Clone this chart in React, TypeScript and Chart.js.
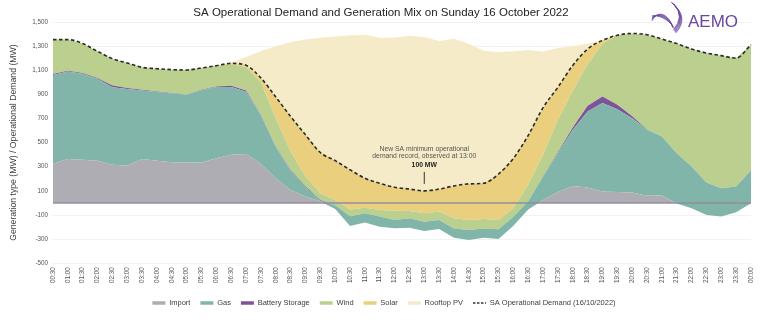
import React, { useEffect, useRef } from 'react';
import { Chart, registerables } from 'chart.js';

Chart.register(...registerables);

const TITLE = 'SA Operational Demand and Generation Mix on Sunday 16 October 2022';
const Y_TITLE = 'Generation type (MW) / Operational Demand (MW)';

const times = ['00:30','01:00','01:30','02:00','02:30','03:00','03:30','04:00','04:30','05:00','05:30','06:00','06:30','07:00','07:30','08:00','08:30','09:00','09:30','10:00','10:30','11:00','11:30','12:00','12:30','13:00','13:30','14:00','14:30','15:00','15:30','16:00','16:30','17:00','17:30','18:00','18:30','19:00','19:30','20:00','20:30','21:00','21:30','22:00','22:30','23:00','23:30','00:00'];

const importMW = [324,365,357,349,316,310,365,349,338,338,335,371,399,406,324,205,108,53,11,-50,-191,-163,-197,-210,-205,-233,-216,-288,-307,-288,-299,-190,-55,25,90,141,127,94,90,86,60,62,-5,-44,-100,-113,-78,-3];
const gasMW = [737,725,714,681,644,634,568,571,570,560,600,591,563,515,404,260,158,75,8,28,81,77,84,69,78,78,75,77,83,77,80,76,70,194,322,465,632,734,686,617,546,489,417,346,269,235,214,273];
const batteryMW = [8,6,6,6,14,8,5,4,3,2,3,4,10,12,3,3,8,8,6,2,0,0,0,0,0,0,0,0,0,0,0,0,0,3,8,19,47,55,39,15,2,0,0,0,0,0,0,0];
const windMW = [285,258,244,221,222,208,186,189,194,202,181,172,178,194,269,235,152,83,55,45,55,47,55,77,61,69,69,84,83,78,78,70,135,178,270,305,344,437,575,687,787,808,909,974,1074,1099,1065,1042];
const solarMW = [0,0,0,0,0,0,0,0,0,0,0,0,7,14,36,175,291,346,338,326,330,244,221,194,181,186,187,268,299,296,381,414,410,390,270,210,126,28,0,0,0,0,0,0,0,0,0,0];
const rooftopMW = [0,0,0,0,0,0,0,0,0,0,0,0,8,69,224,422,618,790,952,1029,1115,1190,1207,1242,1270,1275,1227,1221,1162,1099,1012,888,708,465,325,160,46,0,0,0,0,0,0,0,0,0,0,0];
const demandMW = [1354,1354,1321,1257,1196,1160,1124,1113,1105,1102,1119,1138,1157,1141,1036,878,717,565,418,351,275,205,163,130,115,100,115,141,158,163,240,370,560,790,960,1140,1276,1348,1390,1405,1395,1359,1321,1276,1243,1221,1201,1312];

const seriesNames = ['Import','Gas','Battery Storage','Wind','Solar','Rooftop PV','SA Operational Demand (16/10/2022)'];
const seriesColors = ['#aeadb3','#82b5a9','#7d5499','#bbd08f','#e9cf7e','#f6ebc9','#2a2a2a'];

const yMin = -500;
const yMax = 1500;
const yStep = 200;

const recordTime = '13:00';
const recordLines = ['New SA minimum operational', 'demand record, observed at 13:00'];
const recordValueLabel = '100 MW';

const FONT = '"Liberation Sans", Arial, Helvetica, sans-serif';

const overlayPlugin = {
  id: 'overlay',
  afterDatasetsDraw(chart: any) {
    const { ctx, chartArea, scales } = chart;
    const x = scales.x;
    const y = scales.y;
    ctx.save();
    // zero axis line
    const y0 = y.getPixelForValue(0);
    ctx.strokeStyle = 'rgba(145,137,160,0.95)';
    ctx.lineWidth = 1.6;
    ctx.beginPath();
    ctx.moveTo(chartArea.left, y0);
    ctx.lineTo(chartArea.right, y0);
    ctx.stroke();

    // record annotation
    const idx = times.indexOf(recordTime);
    const px = x.getPixelForValue(idx);
    const py = y.getPixelForValue(demandMW[idx]);
    ctx.strokeStyle = '#333';
    ctx.lineWidth = 1;
    ctx.beginPath();
    ctx.moveTo(px, py - 19);
    ctx.lineTo(px, py - 7);
    ctx.stroke();
    ctx.textAlign = 'center';
    ctx.textBaseline = 'middle';
    ctx.fillStyle = '#555';
    ctx.font = '6.8px ' + FONT;
    ctx.fillText(recordLines[0], px, py - 42);
    ctx.fillText(recordLines[1], px, py - 34.5);
    ctx.fillStyle = '#222';
    ctx.font = 'bold 6.8px ' + FONT;
    ctx.fillText(recordValueLabel, px, py - 26);
    ctx.restore();
  },
  afterDraw(chart: any) {
    const { ctx } = chart;
    ctx.save();
    // title
    ctx.fillStyle = '#222';
    ctx.font = '11.5px ' + FONT;
    ctx.textAlign = 'center';
    ctx.textBaseline = 'middle';
    ctx.fillText(TITLE, 381, 13);

    // AEMO logo
    ctx.fillStyle = '#6a45a0';
    ctx.font = '17px ' + FONT;
    ctx.textAlign = 'left';
    ctx.textBaseline = 'alphabetic';
    ctx.fillText('AEMO', 688, 27);
    ctx.strokeStyle = 'rgba(106,69,160,0.75)';
    ctx.lineWidth = 0.7;
    for (let k = 0; k < 10; k++) {
      ctx.beginPath();
      ctx.moveTo(671 + k * 0.4, 2 + k * 0.3);
      ctx.quadraticCurveTo(690 - k * 0.6, 17, 676 - k * 0.3, 33 - k * 0.4);
      ctx.stroke();
    }
    for (let k = 0; k < 10; k++) {
      ctx.beginPath();
      ctx.moveTo(652, 21 - k * 0.6);
      ctx.bezierCurveTo(657, 10 + k * 0.5, 668, 12 + k * 0.8, 673, 28 - k * 0.2);
      ctx.stroke();
    }
    ctx.restore();
  },
};

export default function App() {
  const canvasRef = useRef<HTMLCanvasElement | null>(null);

  useEffect(() => {
    document.body.style.margin = '0';
    const canvas = canvasRef.current;
    if (!canvas) return;

    const gen = [importMW, gasMW, batteryMW, windMW, solarMW, rooftopMW];
    const datasets: any[] = gen.map((d, i) => ({
      label: seriesNames[i],
      data: d,
      stack: 'gen',
      order: 1,
      backgroundColor: seriesColors[i],
      borderColor: 'rgba(0,0,0,0)',
      borderWidth: 0,
      pointRadius: 0,
      pointHoverRadius: 0,
      tension: 0,
      fill: i === 0 ? { target: 'origin', above: seriesColors[0], below: 'rgba(0,0,0,0)' } : '-1',
    }));
    datasets.push({
      label: seriesNames[6],
      data: demandMW,
      stack: 'demand',
      order: 0,
      borderColor: seriesColors[6],
      backgroundColor: seriesColors[6],
      borderWidth: 1.6,
      borderDash: [3.5, 2.5],
      pointRadius: 0,
      pointHoverRadius: 0,
      fill: false,
      cubicInterpolationMode: 'monotone',
    });

    const chart = new Chart(canvas, {
      type: 'line',
      data: { labels: times, datasets },
      plugins: [overlayPlugin],
      options: {
        animation: false,
        responsive: false,
        devicePixelRatio: 1,
        layout: { padding: { top: 22, bottom: 7.25, left: 0, right: 0 } },
        plugins: {
          title: { display: false },
          tooltip: { enabled: false },
          legend: {
            display: true,
            position: 'bottom',
            labels: {
              usePointStyle: true,
              pointStyleWidth: 13,
              padding: 10,
              color: '#404040',
              font: { size: 7.5, family: FONT },
              generateLabels: () =>
                seriesNames.map((name, i) => ({
                  text: name,
                  fillStyle: seriesColors[i],
                  strokeStyle: i === 6 ? '#333' : seriesColors[i],
                  lineWidth: i === 6 ? 1.3 : 3.5,
                  lineDash: i === 6 ? [2.5, 1.5] : [],
                  pointStyle: 'line',
                  hidden: false,
                  datasetIndex: i,
                  fontColor: '#404040',
                })),
            },
          },
        },
        scales: {
          x: {
            type: 'category',
            offset: false,
            grid: { display: false, drawTicks: false },
            border: { display: false },
            ticks: {
              autoSkip: false,
              minRotation: 90,
              maxRotation: 90,
              padding: 4,
              color: '#555',
              font: { size: 6.3, family: FONT },
            },
            afterFit: (s: any) => { s.height = 26; },
          },
          y: {
            type: 'linear',
            stacked: 'single',
            min: yMin,
            max: yMax,
            grid: { color: '#efefef', lineWidth: 0.8, drawTicks: false },
            border: { display: false },
            ticks: {
              stepSize: yStep,
              padding: 5,
              color: '#555',
              font: { size: 6.3, family: FONT },
              callback: (v: any) => Number(v).toLocaleString('en-US'),
            },
            title: {
              display: true,
              text: Y_TITLE,
              color: '#404040',
              font: { size: 8.7, family: FONT },
              padding: { top: 8, bottom: 0 },
            },
            afterFit: (s: any) => { s.width = 53; },
          },
          y2: {
            type: 'linear',
            position: 'right',
            display: true,
            grid: { display: false, drawTicks: false },
            border: { display: false },
            ticks: { display: false },
            afterFit: (s: any) => { s.width = 17; },
          },
        },
      } as any,
    });

    return () => chart.destroy();
  }, []);

  return (
    <div style={{ width: 768, height: 324, position: 'relative', background: '#fff' }}>
      <canvas ref={canvasRef} width={768} height={324} style={{ display: 'block' }} />
    </div>
  );
}
